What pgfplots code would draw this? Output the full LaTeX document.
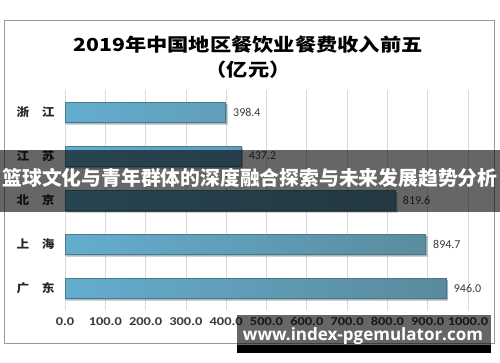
\documentclass[border=0pt]{standalone}
\usepackage{pgfplots}
\pgfplotsset{compat=1.18}
\usepackage{fontspec}
\setmainfont{Carlito}
\newfontfamily\cjk{Noto Sans CJK SC}
\newfontfamily\wm{Open Sans}
\definecolor{barL}{HTML}{64ADCF}
\definecolor{barR}{HTML}{5A8A9C}
\definecolor{barE}{HTML}{4A7888}
\definecolor{gridc}{HTML}{D9D9D9}
\definecolor{txt}{HTML}{3A3A3A}
\begin{document}
\begin{tikzpicture}[x=1pt,y=1pt]
\useasboundingbox (0,0) rectangle (500,362);
\fill[white] (0,0) rectangle (500,362);
\draw[color=black!40, line width=0.8pt] (4,19) rectangle (494,342);
\node[font=\cjk\bfseries\fontsize{18}{18}\selectfont, xscale=1.18, text=black] at (248,317) {2019年中国地区餐饮业餐费收入前五};
\node[font=\cjk\bfseries\fontsize{18}{18}\selectfont, xscale=1.18, text=black] at (248,292) {（亿元）};
\begin{axis}[
  at={(65pt,52pt)}, anchor=south west,
  scale only axis, width=403pt, height=220pt,
  xmin=0, xmax=1000, ymin=-0.5, ymax=4.5,
  xtick={0,100,...,1000},
  xticklabels={0.0,100.0,200.0,300.0,400.0,500.0,600.0,700.0,800.0,900.0,1000.0},
  ytick={0,1,2,3,4},
  yticklabels={广\quad 东,上\quad 海,北\quad 京,江\quad 苏,浙\quad 江},
  xmajorgrids, major grid style={gridc, line width=0.8pt},
  axis line style={draw=none},
  major tick style={draw=none},
  xticklabel style={font=\bfseries\fontsize{12}{12}\selectfont, text=txt, xscale=1.2, yshift=-4pt},
  yticklabel style={font=\cjk\bfseries\fontsize{11.5}{11.5}\selectfont, text=black!85, xscale=1.1, xshift=-6pt},
  clip=false,
]
\addplot[xbar, bar width=20pt, draw=barE, line width=0.6pt, left color=barL, right color=barR,
  preaction={fill=black, opacity=0.25, transform canvas={xshift=1.5pt, yshift=-2pt}},
  nodes near coords, point meta=explicit symbolic,
  every node near coord/.append style={anchor=west, xshift=4pt, font=\fontsize{12}{12}\selectfont, text=txt}]
  table[meta=lab] {
x y lab
946.0 0 946.0
894.7 1 894.7
819.6 2 819.6
437.2 3 437.2
398.4 4 398.4
};
\end{axis}
\fill[black, opacity=0.6] (0,150) rectangle (500,212);
\node[font=\cjk\bfseries\fontsize{19.8}{19.8}\selectfont, text=white] at (250,184) {篮球文化与青年群体的深度融合探索与未来发展趋势分析};
\fill[black, opacity=0.6] (237,17) rectangle (491,47);
\fill[black] (237,9) rectangle (491,17);
\node[font=\wm\bfseries\fontsize{17}{17}\selectfont, text=white] at (363,26) {www.index-pgemulator.com};
\end{tikzpicture}
\end{document}
